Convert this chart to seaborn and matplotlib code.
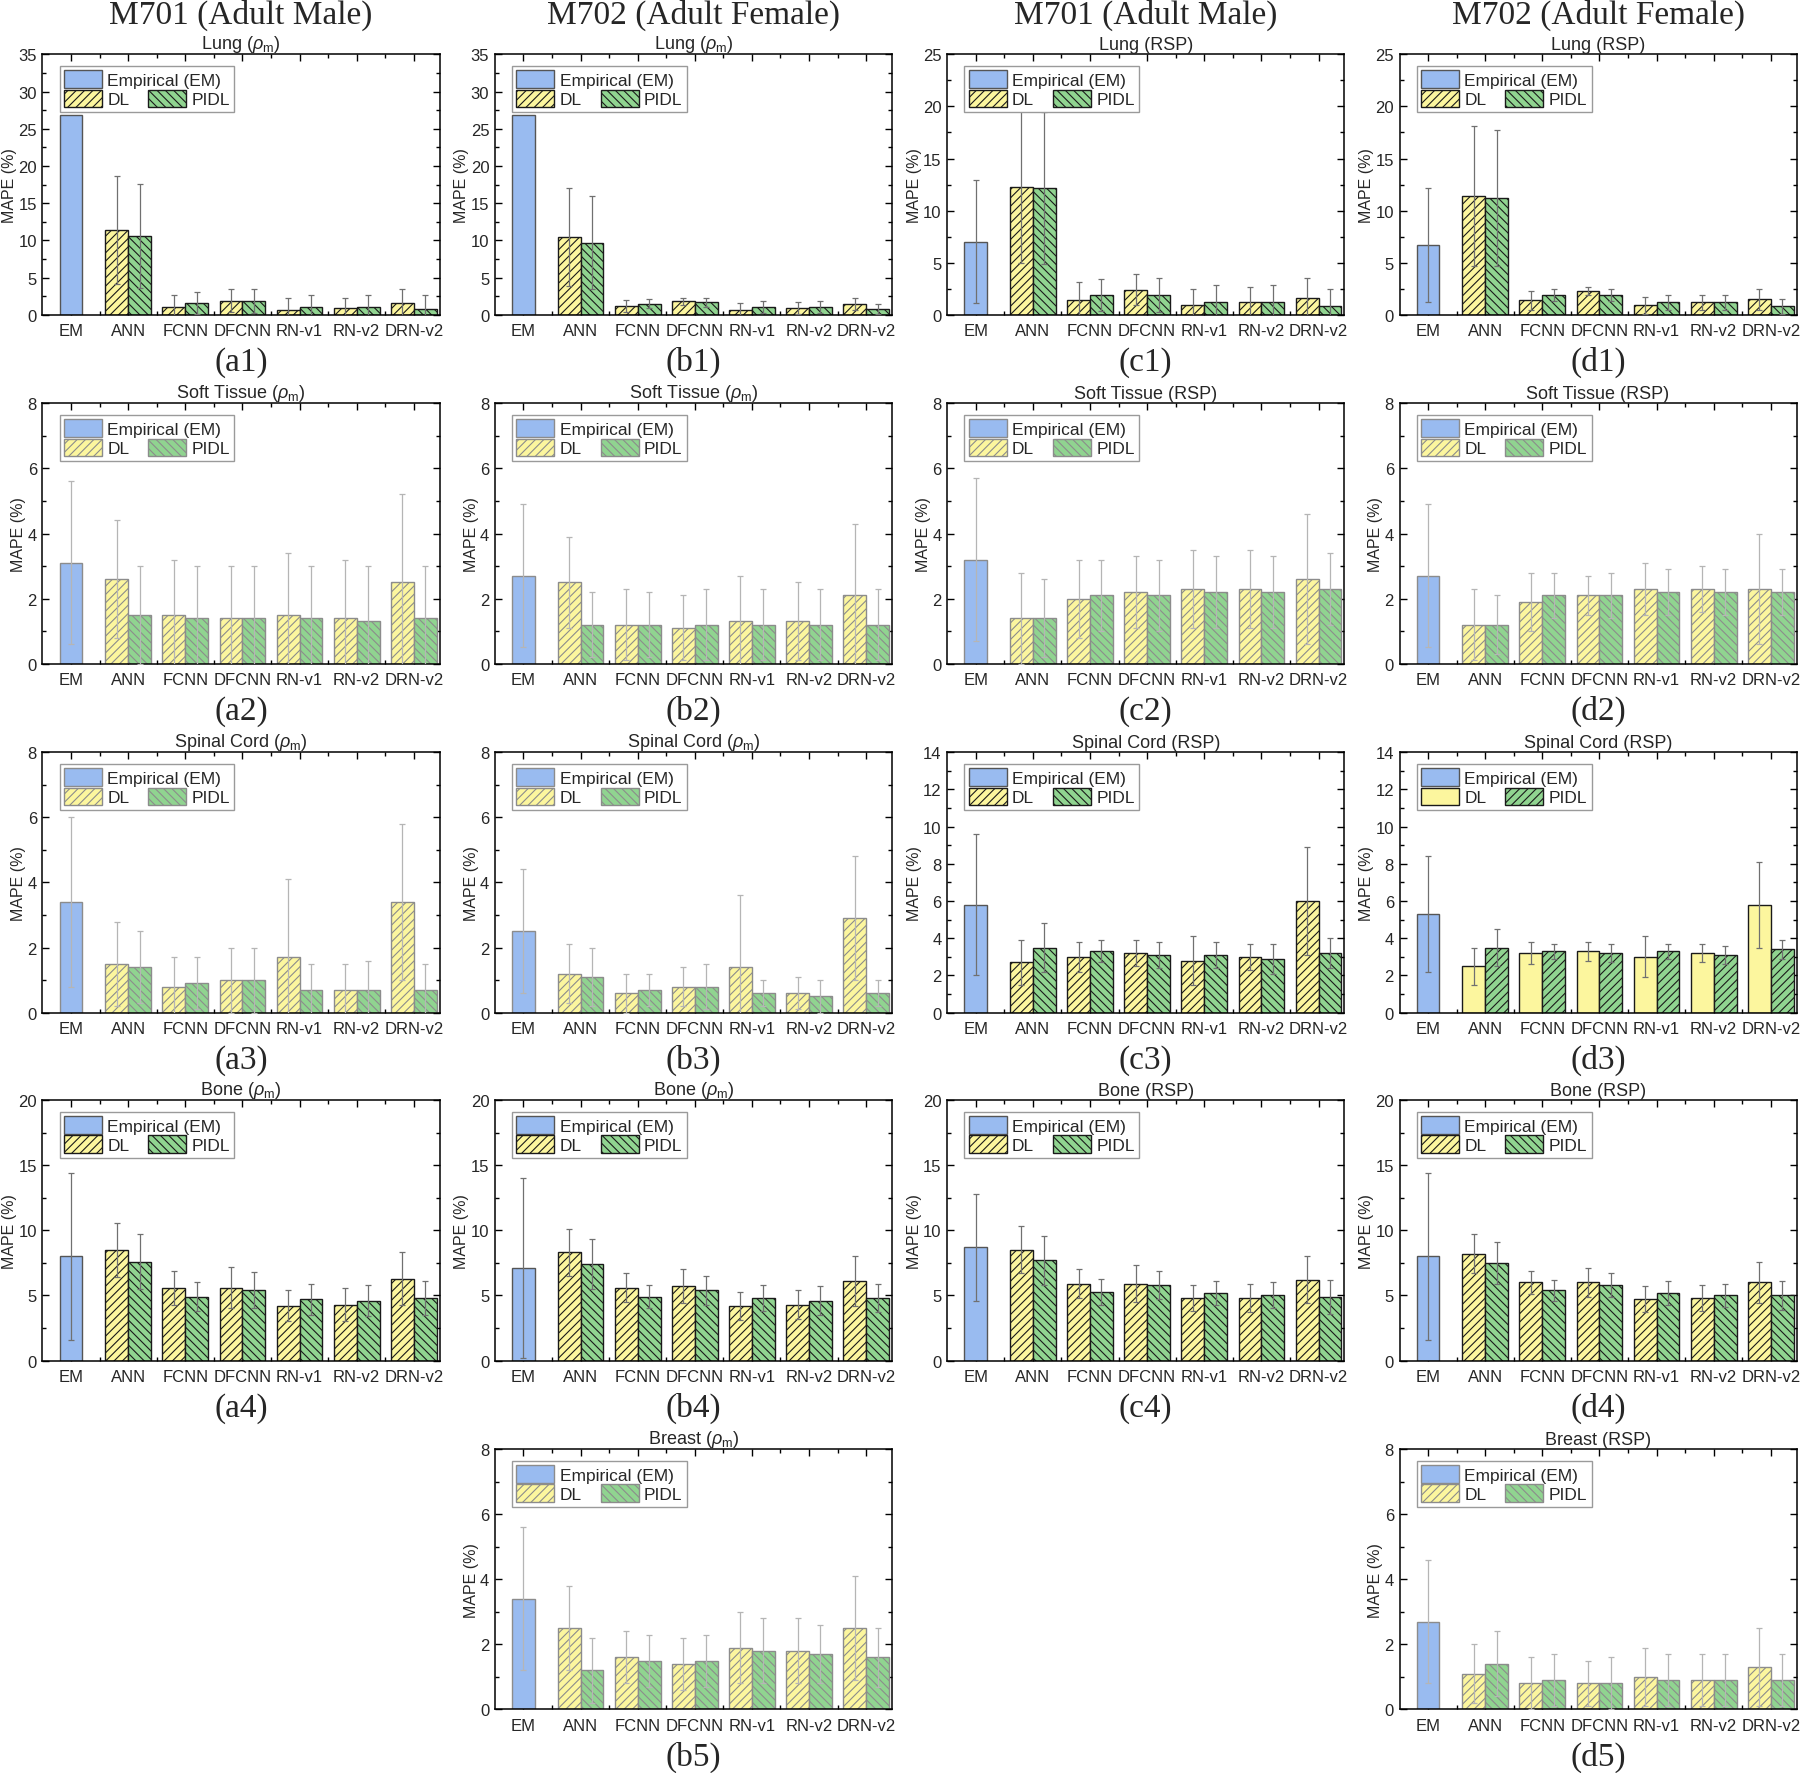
import numpy as np
import pandas as pd
import matplotlib
matplotlib.use("Agg")
import matplotlib.pyplot as plt
from matplotlib.patches import Patch
from matplotlib.ticker import MultipleLocator, FixedLocator
import seaborn as sns

models = ['EM', 'ANN', 'FCNN', 'DFCNN', 'RN-v1', 'RN-v2', 'DRN-v2']
dl_models = models[1:]

panel_ids = ['a1', 'b1', 'c1', 'd1', 'a2', 'b2', 'c2', 'd2',
             'a3', 'b3', 'c3', 'd3', 'a4', 'b4', 'c4', 'd4', 'b5', 'd5']
titles = [r'Lung ($\rho_\mathrm{m}$)', r'Lung ($\rho_\mathrm{m}$)', 'Lung (RSP)', 'Lung (RSP)',
          r'Soft Tissue ($\rho_\mathrm{m}$)', r'Soft Tissue ($\rho_\mathrm{m}$)', 'Soft Tissue (RSP)', 'Soft Tissue (RSP)',
          r'Spinal Cord ($\rho_\mathrm{m}$)', r'Spinal Cord ($\rho_\mathrm{m}$)', 'Spinal Cord (RSP)', 'Spinal Cord (RSP)',
          r'Bone ($\rho_\mathrm{m}$)', r'Bone ($\rho_\mathrm{m}$)', 'Bone (RSP)', 'Bone (RSP)',
          r'Breast ($\rho_\mathrm{m}$)', 'Breast (RSP)']
y_max = [35, 35, 25, 25, 8, 8, 8, 8, 8, 8, 14, 14, 20, 20, 20, 20, 8, 8]
y_step = [5, 5, 5, 5, 2, 2, 2, 2, 2, 2, 2, 2, 5, 5, 5, 5, 2, 2]
column_heads = ['M701 (Adult Male)', 'M702 (Adult Female)', 'M701 (Adult Male)', 'M702 (Adult Female)']

# empirical model, one value per panel
em_mean = [26.8, 26.8, 7.0, 6.7, 3.1, 2.7, 3.2, 2.7, 3.4, 2.5, 5.8, 5.3, 8.0, 7.1, 8.7, 8.0, 3.4, 2.7]
em_sd = [0, 0, 5.9, 5.5, 2.5, 2.2, 2.5, 2.2, 2.6, 1.9, 3.8, 3.1, 6.4, 6.9, 4.1, 6.4, 2.2, 1.9]

# DL / PIDL values for ANN, FCNN, DFCNN, RN-v1, RN-v2, DRN-v2
a1_dl = [11.4, 1.1, 1.9, 0.7, 0.9, 1.6]
a1_dl_sd = [7.2, 1.6, 1.5, 1.6, 1.4, 1.8]
a1_pidl = [10.6, 1.6, 1.8, 1.0, 1.0, 0.8]
a1_pidl_sd = [7.0, 1.5, 1.6, 1.7, 1.6, 1.8]

b1_dl = [10.5, 1.2, 1.8, 0.7, 0.9, 1.5]
b1_dl_sd = [6.6, 0.8, 0.5, 0.9, 0.8, 0.8]
b1_pidl = [9.7, 1.5, 1.7, 1.0, 1.0, 0.8]
b1_pidl_sd = [6.3, 0.6, 0.6, 0.8, 0.8, 0.7]

c1_dl = [12.3, 1.4, 2.4, 0.9, 1.2, 1.6]
c1_dl_sd = [7.3, 1.7, 1.5, 1.6, 1.5, 1.9]
c1_pidl = [12.2, 1.9, 1.9, 1.2, 1.2, 0.8]
c1_pidl_sd = [7.3, 1.5, 1.6, 1.7, 1.7, 1.7]

d1_dl = [11.4, 1.4, 2.3, 0.9, 1.2, 1.5]
d1_dl_sd = [6.7, 0.9, 0.4, 0.8, 0.7, 1.0]
d1_pidl = [11.2, 1.9, 1.9, 1.2, 1.2, 0.8]
d1_pidl_sd = [6.5, 0.6, 0.6, 0.7, 0.7, 0.7]

a2_dl = [2.6, 1.5, 1.4, 1.5, 1.4, 2.5]
a2_dl_sd = [1.8, 1.7, 1.6, 1.9, 1.8, 2.7]
a2_pidl = [1.5, 1.4, 1.4, 1.4, 1.3, 1.4]
a2_pidl_sd = [1.5, 1.6, 1.6, 1.6, 1.7, 1.6]

b2_dl = [2.5, 1.2, 1.1, 1.3, 1.3, 2.1]
b2_dl_sd = [1.4, 1.1, 1.0, 1.4, 1.2, 2.2]
b2_pidl = [1.2, 1.2, 1.2, 1.2, 1.2, 1.2]
b2_pidl_sd = [1.0, 1.0, 1.1, 1.1, 1.1, 1.1]

c2_dl = [1.4, 2.0, 2.2, 2.3, 2.3, 2.6]
c2_dl_sd = [1.4, 1.2, 1.1, 1.2, 1.2, 2.0]
c2_pidl = [1.4, 2.1, 2.1, 2.2, 2.2, 2.3]
c2_pidl_sd = [1.2, 1.1, 1.1, 1.1, 1.1, 1.1]

d2_dl = [1.2, 1.9, 2.1, 2.3, 2.3, 2.3]
d2_dl_sd = [1.1, 0.9, 0.6, 0.8, 0.7, 1.7]
d2_pidl = [1.2, 2.1, 2.1, 2.2, 2.2, 2.2]
d2_pidl_sd = [0.9, 0.7, 0.7, 0.7, 0.7, 0.7]

a3_dl = [1.5, 0.8, 1.0, 1.7, 0.7, 3.4]
a3_dl_sd = [1.3, 0.9, 1.0, 2.4, 0.8, 2.4]
a3_pidl = [1.4, 0.9, 1.0, 0.7, 0.7, 0.7]
a3_pidl_sd = [1.1, 0.8, 1.0, 0.8, 0.9, 0.8]

b3_dl = [1.2, 0.6, 0.8, 1.4, 0.6, 2.9]
b3_dl_sd = [0.9, 0.6, 0.6, 2.2, 0.5, 1.9]
b3_pidl = [1.1, 0.7, 0.8, 0.6, 0.5, 0.6]
b3_pidl_sd = [0.9, 0.5, 0.7, 0.4, 0.5, 0.4]

c3_dl = [2.7, 3.0, 3.2, 2.8, 3.0, 6.0]
c3_dl_sd = [1.2, 0.8, 0.7, 1.3, 0.7, 2.9]
c3_pidl = [3.5, 3.3, 3.1, 3.1, 2.9, 3.2]
c3_pidl_sd = [1.3, 0.6, 0.7, 0.7, 0.8, 0.8]

d3_dl = [2.5, 3.2, 3.3, 3.0, 3.2, 5.8]
d3_dl_sd = [1.0, 0.6, 0.5, 1.1, 0.5, 2.3]
d3_pidl = [3.5, 3.3, 3.2, 3.3, 3.1, 3.4]
d3_pidl_sd = [1.0, 0.4, 0.5, 0.4, 0.5, 0.5]

a4_dl = [8.5, 5.6, 5.6, 4.2, 4.3, 6.3]
a4_dl_sd = [2.1, 1.3, 1.6, 1.2, 1.3, 2.0]
a4_pidl = [7.6, 4.9, 5.4, 4.7, 4.6, 4.8]
a4_pidl_sd = [2.1, 1.1, 1.4, 1.2, 1.2, 1.3]

b4_dl = [8.3, 5.6, 5.7, 4.2, 4.3, 6.1]
b4_dl_sd = [1.8, 1.1, 1.3, 1.1, 1.1, 1.9]
b4_pidl = [7.4, 4.9, 5.4, 4.8, 4.6, 4.8]
b4_pidl_sd = [1.9, 0.9, 1.1, 1.0, 1.1, 1.1]

c4_dl = [8.5, 5.9, 5.9, 4.8, 4.8, 6.2]
c4_dl_sd = [1.8, 1.1, 1.4, 1.0, 1.1, 1.8]
c4_pidl = [7.7, 5.3, 5.8, 5.2, 5.0, 4.9]
c4_pidl_sd = [1.9, 1.0, 1.1, 0.9, 1.0, 1.3]

d4_dl = [8.2, 6.0, 6.0, 4.7, 4.8, 6.0]
d4_dl_sd = [1.5, 0.9, 1.1, 1.0, 1.0, 1.6]
d4_pidl = [7.5, 5.4, 5.8, 5.2, 5.0, 5.0]
d4_pidl_sd = [1.6, 0.8, 0.9, 0.9, 0.9, 1.1]

b5_dl = [2.5, 1.6, 1.4, 1.9, 1.8, 2.5]
b5_dl_sd = [1.3, 0.8, 0.8, 1.1, 1.0, 1.6]
b5_pidl = [1.2, 1.5, 1.5, 1.8, 1.7, 1.6]
b5_pidl_sd = [1.0, 0.8, 0.8, 1.0, 0.9, 0.9]

d5_dl = [1.1, 0.8, 0.8, 1.0, 0.9, 1.3]
d5_dl_sd = [0.9, 0.8, 0.7, 0.9, 0.8, 1.2]
d5_pidl = [1.4, 0.9, 0.8, 0.9, 0.9, 0.9]
d5_pidl_sd = [1.0, 0.8, 0.8, 0.8, 0.8, 0.8]

series = {pid: (globals()[pid + '_dl'], globals()[pid + '_dl_sd'],
                globals()[pid + '_pidl'], globals()[pid + '_pidl_sd']) for pid in panel_ids}

# panels drawn with faint grey hatch/edges
light_panels = ['a2', 'b2', 'c2', 'd2', 'a3', 'b3', 'b5', 'd5']

c_em = '#99bbf0'
c_dl = '#fcf69e'
c_pidl = '#90d490'

sns.set_theme(style='ticks')
plt.rcParams['font.family'] = ['Liberation Sans', 'DejaVu Sans']
plt.rcParams['mathtext.fontset'] = 'custom'
plt.rcParams['mathtext.rm'] = 'Liberation Sans'
plt.rcParams['mathtext.it'] = 'Liberation Sans:italic'
plt.rcParams['hatch.linewidth'] = 0.8
plt.rcParams['axes.edgecolor'] = 'black'
plt.rcParams['axes.linewidth'] = 1.1

fig = plt.figure(figsize=(18, 17.74), dpi=100)

lefts = [0.0236, 0.2749, 0.5262, 0.7775]
bottoms = [0.822, 0.6253, 0.4286, 0.2325, 0.0358]
aw, ah = 0.2206, 0.1468

for col, head in enumerate(column_heads):
    fig.text(lefts[col] + aw / 2, 0.9915, head, family='Liberation Serif',
             fontsize=24, ha='center', va='center')

for k, pid in enumerate(panel_ids):
    col = 'abcd'.index(pid[0])
    row = int(pid[1]) - 1
    ax = fig.add_axes([lefts[col], bottoms[row], aw, ah])
    dl, dl_sd, pidl, pidl_sd = series[pid]
    light = pid in light_panels

    df = pd.DataFrame({'model': dl_models * 2,
                       'method': ['DL'] * 6 + ['PIDL'] * 6,
                       'mape': dl + pidl})
    sns.barplot(data=df, x='model', y='mape', hue='method', order=models,
                hue_order=['DL', 'PIDL'], palette={'DL': c_dl, 'PIDL': c_pidl},
                saturation=1, errorbar=None, legend=False, ax=ax)
    sns.barplot(x=['EM'], y=[em_mean[k]], order=models, color=c_em, width=0.4,
                saturation=1, errorbar=None, ax=ax)

    if light:
        edge, em_edge, err_col = '#8c8c8c', '#8c8c8c', '#b5b5b5'
    else:
        edge, em_edge, err_col = '#1a1a1a', '#555555', '#707070'
    if pid == 'd3':
        hatch_dl, hatch_pidl = '', '////'
    else:
        hatch_dl, hatch_pidl = '////', '\\\\\\\\'

    bar_sets = list(ax.containers)
    for b in bar_sets[0]:
        b.set_edgecolor(edge); b.set_hatch(hatch_dl); b.set_linewidth(1.0)
    for b in bar_sets[1]:
        b.set_edgecolor(edge); b.set_hatch(hatch_pidl); b.set_linewidth(1.0)
    for b in bar_sets[2]:
        b.set_edgecolor(em_edge); b.set_linewidth(1.0)

    for cont, sds in zip(bar_sets, [dl_sd, pidl_sd, [em_sd[k]]]):
        xs = [b.get_x() + b.get_width() / 2 for b in cont]
        ys = [b.get_height() for b in cont]
        keep = [i for i, s in enumerate(sds) if s > 0]
        if not keep:
            continue
        ax.errorbar([xs[i] for i in keep], [ys[i] for i in keep],
                    yerr=[sds[i] for i in keep], fmt='none', ecolor=err_col,
                    elinewidth=0.9, capsize=2, capthick=0.9, zorder=4)

    ax.set_xlim(-0.5, 6.45)
    ax.set_ylim(0, y_max[k])
    ax.yaxis.set_major_locator(MultipleLocator(y_step[k]))
    ax.yaxis.set_minor_locator(MultipleLocator(y_step[k] / 2))
    ax.xaxis.set_minor_locator(FixedLocator(np.arange(0.5, 6.0, 1.0)))
    ax.tick_params(which='both', direction='in', top=True, right=True,
                   width=1.0, color='black')
    ax.tick_params(which='major', length=5, labelsize=12)
    ax.tick_params(axis='x', which='major', pad=6)
    ax.tick_params(axis='y', which='major', pad=4)
    ax.tick_params(which='minor', length=3)
    for s in ax.spines.values():
        s.set_visible(True)
        s.set_color('black')
        s.set_linewidth(1.1)
    ax.set_xlabel('')
    ax.set_ylabel('MAPE (%)', fontsize=11.5, labelpad=1)
    ax.set_title(titles[k], fontsize=13, pad=4)
    ax.text(0.5, -0.18, '(' + pid + ')', transform=ax.transAxes,
            family='Liberation Serif', fontsize=24, ha='center', va='center')

    handles = [Patch(facecolor=c_em, edgecolor=em_edge, linewidth=1.0),
               Patch(facecolor=c_dl, edgecolor=edge, hatch=hatch_dl, linewidth=1.0),
               Patch(facecolor='none', edgecolor='none'),
               Patch(facecolor=c_pidl, edgecolor=edge, hatch=hatch_pidl, linewidth=1.0)]
    leg = ax.legend(handles, ['Empirical (EM)', 'DL', '', 'PIDL'], ncol=2,
                    loc='upper left', bbox_to_anchor=(0.043, 0.956),
                    borderaxespad=0, columnspacing=-4.2, handlelength=2.2,
                    handleheight=1.2, handletextpad=0.3, labelspacing=0.1,
                    borderpad=0.25, fancybox=False,
                    edgecolor='#9a9a9a', framealpha=1, fontsize=12.5)
    leg.get_frame().set_linewidth(1.0)

fig.savefig('out.png', dpi=100)
